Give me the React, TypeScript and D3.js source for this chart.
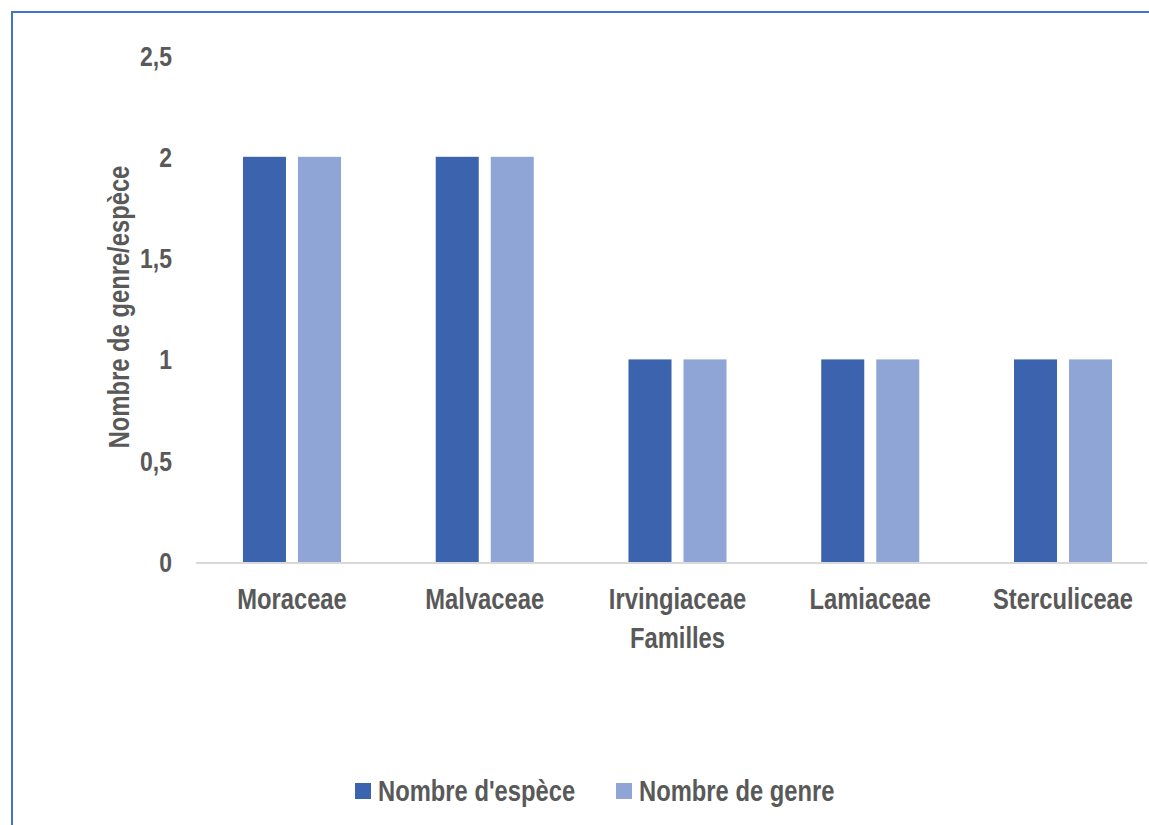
import React from "react";
import * as d3 from "d3";

const categories = ["Moraceae", "Malvaceae", "Irvingiaceae", "Lamiaceae", "Sterculiceae"];
const seriesNames = ["Nombre d'espèce", "Nombre de genre"];
const especeValues = [2, 2, 1, 1, 1];
const genreValues = [2, 2, 1, 1, 1];
const yTicks = [0, 0.5, 1, 1.5, 2, 2.5];
const colors = ["#3C64AE", "#8FA5D6"];
const xTitle = "Familles";
const yTitle = "Nombre de genre/espèce";

const FONT = "'Liberation Sans', Arial, sans-serif";
const TXT = "#595959";
const SX = 0.82;

function NText(props: { x: number; y: number; anchor?: string; size: number; rotate?: number; children: React.ReactNode }) {
  const { x, y, anchor = "start", size, rotate = 0, children } = props;
  const tr = rotate
    ? `translate(${x},${y}) rotate(${rotate}) scale(${SX},1)`
    : `translate(${x},${y}) scale(${SX},1)`;
  return (
    <text transform={tr} textAnchor={anchor} fontSize={size} fill={TXT}>
      {children}
    </text>
  );
}

export default function App() {
  const W = 1149, H = 825;
  const x = d3.scaleBand<string>().domain(categories).range([195.6, 1159.4]).paddingInner(0).paddingOuter(0);
  const xs = d3.scaleBand<string>().domain(seriesNames).range([0, x.bandwidth()]).paddingInner(0.218).paddingOuter(0.861);
  const y = d3.scaleLinear().domain([0, 2.5]).range([562, 55.5]);
  const fmt = (v: number) => String(v).replace(".", ",");
  const series = [especeValues, genreValues];

  return (
    <svg width={W} height={H} style={{ position: "absolute", left: 0, top: 0 }} fontFamily={FONT} fontWeight="bold">
      <rect x={0} y={0} width={W} height={H} fill="#fff" />
      <rect x={12} y={12} width={1300} height={1000} fill="none" stroke="#4472C4" strokeWidth={2} />
      {yTicks.map((t) => (
        <NText key={t} x={172} y={y(t) + 10} anchor="end" size={28}>
          {fmt(t)}
        </NText>
      ))}
      <NText x={129} y={307} anchor="middle" size={29} rotate={-90}>
        {yTitle}
      </NText>
      {categories.map((c, i) => (
        <g key={c}>
          {series.map((vals, s) => (
            <rect
              key={s}
              x={(x(c) as number) + (xs(seriesNames[s]) as number)}
              y={y(vals[i])}
              width={xs.bandwidth()}
              height={y(0) - y(vals[i])}
              fill={colors[s]}
            />
          ))}
        </g>
      ))}
      <line x1={196} x2={1147} y1={y(0) + 1} y2={y(0) + 1} stroke="#D9D9D9" strokeWidth={2} />
      {categories.map((c) => (
        <NText key={c} x={(x(c) as number) + x.bandwidth() / 2} y={609} anchor="middle" size={29}>
          {c}
        </NText>
      ))}
      <NText x={(x(categories[2]) as number) + x.bandwidth() / 2} y={648} anchor="middle" size={29}>
        {xTitle}
      </NText>
      {seriesNames.map((n, s) => {
        const lx = [355, 616][s];
        return (
          <g key={n}>
            <rect x={lx} y={783} width={16} height={16} fill={colors[s]} />
            <NText x={lx + 23} y={801} size={29}>
              {n}
            </NText>
          </g>
        );
      })}
    </svg>
  );
}
